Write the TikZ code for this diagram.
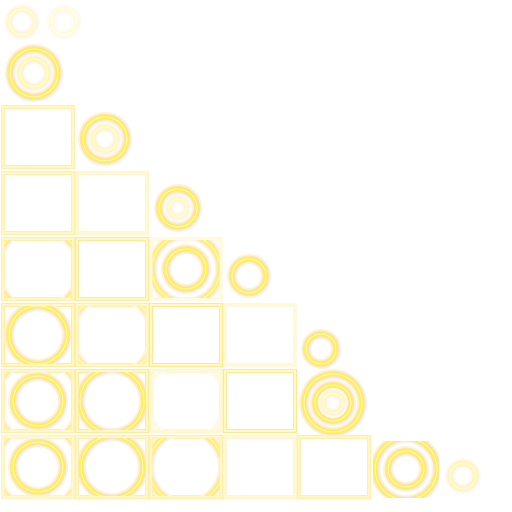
\documentclass[tikz,border=0pt]{standalone}
\usepackage{tikz}
\usetikzlibrary{calc}

\definecolor{glowcore}{HTML}{FFF04E}
\definecolor{glowhot}{HTML}{FFFAA6}
\definecolor{glowedge}{HTML}{F4C46E}
\definecolor{framecol}{HTML}{FFE66E}
\definecolor{framepale}{HTML}{FFFBE0}

% ring clipped to the inside of a cell
\newcommand{\inring}[3]{%
  \begin{scope}
    \clip ([shift={(1.6,1.6)}]#1.north west) rectangle ([shift={(-1.6,-1.6)}]#1.south east);
    \draw[ring=#3] (#1) circle (#2);
  \end{scope}}

\begin{document}
\begin{tikzpicture}[x=1pt,y=-1pt,
    ring/.style={/utils/exec={\pgfmathsetmacro\edgeout{0.22*#1}%
        \pgfmathsetmacro\edgein{0.45*#1}\pgfmathsetmacro\hotval{0.9*#1}},
      draw=glowcore!#1,line width=3.8,
      preaction={draw=glowedge!\edgeout,line width=10},
      preaction={draw=glowedge!\edgein,line width=6.5},
      postaction={draw=glowhot!\hotval,line width=1}},
    ring/.default=100,
    cell/.style={draw=framecol,double=framepale,double distance=1.4,line width=.9,
      draw opacity=#1,minimum width=70,minimum height=60,inner sep=0pt,outer sep=0pt}]

  \useasboundingbox (0,0) rectangle (512,512);

  % top circles
  \draw[ring=35] (22,22) circle (13);
  \draw[ring=22] (64,22) circle (13);
  \draw[ring] (34,73) circle (24);
  \draw[ring=45] (34,73) circle (14);

  % cells of the lower triangle
  \foreach \r/\c/\o in {2/0/.6, 3/0/.6, 3/1/.35,
      4/0/.6, 4/1/.75, 4/2/.2,
      5/0/.7, 5/1/.6, 5/2/.85, 5/3/.25,
      6/0/.6, 6/1/.75, 6/2/.35, 6/3/.85,
      7/0/.45, 7/1/.6, 7/2/.6, 7/3/.35, 7/4/.6}
    \node[cell=\o] (c\r\c) at ({38+74*\c},{137+66*(\r-2)}) {};

  % rings inside the cells
  \inring{c40}{42}{90}
  \inring{c42}{20}{100}
  \inring{c42}{34}{90}
  \inring{c50}{29}{100}
  \inring{c51}{41}{70}
  \inring{c60}{25}{100}
  \inring{c60}{42.5}{80}
  \inring{c61}{32}{100}
  \inring{c62}{41}{25}
  \inring{c70}{25}{100}
  \inring{c70}{42.5}{80}
  \inring{c71}{31}{100}
  \inring{c72}{37}{90}

  % diagonal circles
  \draw[ring] (105,139) circle (22);
  \draw[ring=40] (105,139) circle (12);
  \draw[ring] (178,208) circle (19);
  \draw[ring=35] (178,208) circle (9);
  \draw[ring] (249,276) circle (17);
  \draw[ring] (321,349) circle (15);
  \draw[ring] (333,403) circle (29);
  \draw[ring] (333,403) circle (18);
  \draw[ring=40] (333,403) circle (10);
  \begin{scope}
    \clip (373,441) rectangle (439,497);
    \draw[ring] (406,469) circle (31);
    \draw[ring] (406,469) circle (18);
  \end{scope}
  \draw[ring=45] (463,476) circle (13);

\end{tikzpicture}
\end{document}
